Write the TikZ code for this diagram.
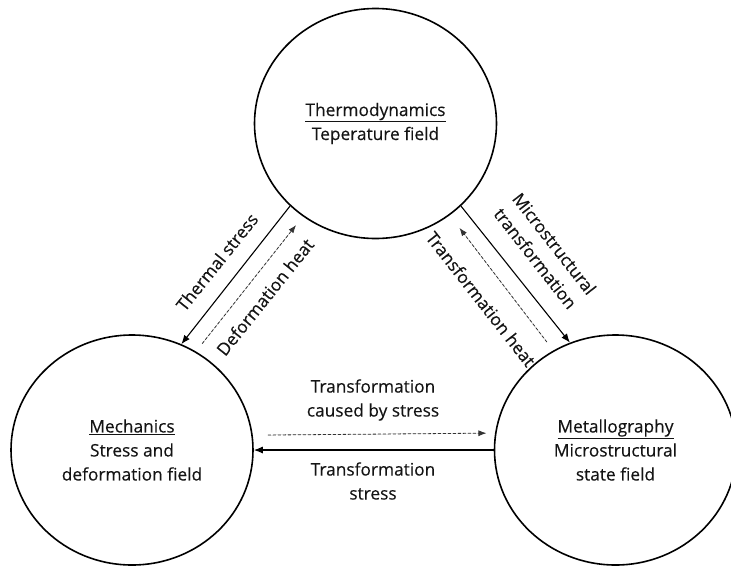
\documentclass[tikz,border=0pt]{standalone}
\usepackage{fontspec}
\setmainfont{Open Sans}[FakeBold=0.3]
\usetikzlibrary{arrows.meta,shapes.geometric}
\newcommand\lblfont{\fontsize{17.3}{24}\selectfont}
\begin{document}
\begin{tikzpicture}[x=1pt,y=-1pt,
  field/.style={ellipse, draw, line width=1.6pt, minimum width=242pt, minimum height=230pt,
    inner sep=0pt, align=center, font=\lblfont, text=black!92},
  lbl/.style={align=center, font=\lblfont, inner sep=0pt, text=black!92},
  solidarrow/.style={-{Latex[length=9pt,width=7pt]}, line width=1.1pt},
  dasharrow/.style={-{Latex[length=8pt,width=6pt]}, line width=0.8pt, dash pattern=on 3pt off 2pt, draw=black!80, fill=black!80}]
\useasboundingbox (0,0) rectangle (731,566);
\clip (0,0) rectangle (731,566);
\node[field] (thermo) at (375.5,123.5) {\underline{Thermodynamics}\\Teperature field};
\node[field] (mech) at (132,450) {\underline{Mechanics}\\Stress and\\deformation field};
\node[field] (metal) at (615.5,450) {\underline{Metallography}\\Microstructural\\state field};
% left pair
\draw[solidarrow] (thermo.224) -- (mech.65.8);
\draw[dasharrow, shorten <=10pt, shorten >=11pt] (mech.57.6) -- (thermo.232.3);
% right pair
\draw[solidarrow] (thermo.316) -- (metal.113.9);
\draw[dasharrow, shorten <=10.5pt, shorten >=16pt] (metal.122) -- (thermo.309.2);
% horizontal pair
\draw[dasharrow, shorten <=15pt, shorten >=8.6pt] (mech.7.2) -- (metal.172.5);
\draw[solidarrow] (metal.180) -- (mech.0);
% labels
\node[lbl, rotate=51.3] (lts) at (217,262) {Thermal stress};
\node[lbl, rotate=51.3] (ldh) at (265,297) {Deformation heat};
\node[lbl, rotate=-52] (lmt) at (545,251) {Microstructural\\transformation};
\node[lbl, rotate=-52] (lth) at (481,299) {Transformation heat};
\node[lbl] (lcs) at (373,400) {Transformation\\caused by stress};
\node[lbl] (lst) at (373,481) {Transformation\\stress};
\end{tikzpicture}
\end{document}
